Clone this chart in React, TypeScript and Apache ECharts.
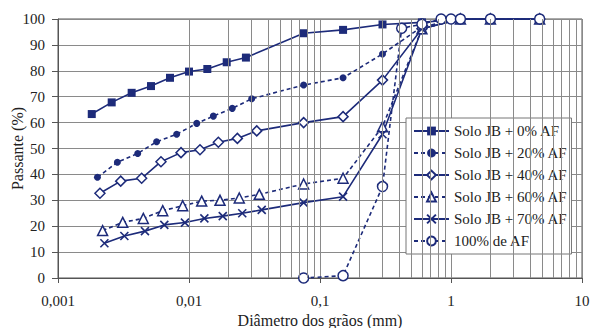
import React, { useEffect, useRef } from "react";
import * as echarts from "echarts";

const NAVY = "#1d2b7a";
const FONT = "Liberation Serif";

const seriesNames = [
  "Solo JB + 0% AF",
  "Solo JB + 20% AF",
  "Solo JB + 40% AF",
  "Solo JB + 60% AF",
  "Solo JB + 70% AF",
  "100% de AF",
];

const d0 = [0.00181, 0.00257, 0.00365, 0.00513, 0.00716, 0.01, 0.0138, 0.0194, 0.0272, 0.075, 0.15, 0.3, 0.6, 1.18, 2, 4.75];
const v0 = [63.3, 67.8, 71.5, 74.1, 77.3, 79.7, 80.7, 83.3, 85.1, 94.5, 95.8, 97.9, 98.7, 100, 100, 100];

const d20 = [0.002, 0.00284, 0.00406, 0.00566, 0.00805, 0.01146, 0.01534, 0.0214, 0.0301, 0.075, 0.15, 0.3, 0.6, 1.18, 2, 4.75];
const v20 = [38.9, 44.7, 48.1, 52.6, 55.5, 59.7, 62.5, 65.5, 69.2, 74.5, 77.3, 86.5, 97, 100, 100, 100];

const d40 = [0.00209, 0.00301, 0.00435, 0.00611, 0.00869, 0.01213, 0.01675, 0.0234, 0.0329, 0.075, 0.15, 0.3, 0.6, 1.18, 2, 4.75];
const v40 = [32.7, 37.4, 38.5, 44.9, 48.4, 49.5, 52.4, 53.9, 56.8, 60.0, 62.3, 76.4, 96.2, 100, 100, 100];

const d60 = [0.00219, 0.00312, 0.00448, 0.0063, 0.00895, 0.0125, 0.01725, 0.0242, 0.0344, 0.075, 0.15, 0.3, 0.6, 1.18, 2, 4.75];
const v60 = [18.3, 21.5, 23.0, 26.0, 27.9, 29.7, 30.0, 30.9, 32.3, 36.3, 38.5, 58.4, 96.2, 100, 100, 100];

const d70 = [0.00226, 0.00321, 0.00461, 0.00648, 0.00931, 0.0131, 0.0181, 0.0255, 0.0359, 0.075, 0.15, 0.3, 0.6, 1.18, 2, 4.75];
const v70 = [13.4, 16.2, 18.1, 20.5, 21.4, 23.0, 23.9, 25.0, 26.3, 29.1, 31.4, 55.5, 96.2, 100, 100, 100];

const d100 = [0.075, 0.15, 0.3, 0.42, 0.6, 0.84, 1.0, 1.18, 2, 4.75];
const v100 = [0, 0.9, 35.3, 96.4, 98, 100, 100, 100, 100, 100];

const minorGrid = [
  0.002, 0.003, 0.004, 0.005, 0.006, 0.007, 0.008, 0.009,
  0.02, 0.03, 0.04, 0.05, 0.06, 0.07, 0.08, 0.09,
  0.2, 0.3, 0.4, 0.5, 0.6, 0.7, 0.8, 0.9,
  2, 3, 4, 5, 6, 7, 8, 9,
];

const xTickText: Record<string, string> = {
  "0.001": "0,001",
  "0.01": "0,01",
  "0.1": "0,1",
  "1": "1",
  "10": "10",
};

const zip = (xs: number[], ys: number[]) => xs.map((x, i) => [x, ys[i]]);

const X_PATH = "path://M0,0L10,10M10,0L0,10";

export default function App() {
  const ref = useRef<HTMLDivElement>(null);
  useEffect(() => {
    document.body.style.margin = "0";
    if (!ref.current) return;
    const chart = echarts.init(ref.current, undefined, { renderer: "svg" });
    const solid = { color: NAVY, width: 1.6, type: "solid" as const };
    const dashed = { color: NAVY, width: 1.6, type: [4, 3] as any };
    const openItem = { color: "#fff", borderColor: NAVY, borderWidth: 1.5 };
    const mk = (name: string, data: number[][], symbol: string, size: number, lineStyle: any, itemStyle: any) => ({
      name,
      type: "line",
      data,
      symbol,
      symbolSize: size,
      showSymbol: true,
      lineStyle,
      itemStyle,
      z: 3,
      emphasis: { disabled: true },
    });
    chart.setOption({
      animation: false,
      backgroundColor: "#fff",
      textStyle: { fontFamily: FONT },
      grid: {
        left: 58,
        right: 8,
        top: 19,
        bottom: 50,
        show: true,
        borderColor: "#555",
        borderWidth: 1,
        outerBoundsMode: "none",
        containLabel: false,
      },
      legend: {
        data: seriesNames,
        orient: "vertical",
        left: 406,
        top: 118,
        padding: [5, 4, 5, 7],
        itemWidth: 35,
        itemHeight: 11,
        itemGap: 6,
        backgroundColor: "#fff",
        borderColor: "#777",
        borderWidth: 1,
        borderRadius: 0,
        textStyle: { fontFamily: FONT, fontSize: 15, color: "#222", lineHeight: 16 },
      },
      xAxis: {
        type: "log",
        logBase: 10,
        min: 0.001,
        max: 10,
        name: "Diâmetro dos grãos (mm)",
        nameLocation: "middle",
        nameGap: 34,
        nameMoveOverlap: false,
        nameTextStyle: { fontFamily: FONT, fontSize: 16, color: "#222" },
        axisLine: { lineStyle: { color: "#555", width: 1 } },
        axisTick: { show: true, length: 5, lineStyle: { color: "#555" } },
        axisLabel: {
          fontFamily: FONT,
          fontSize: 15,
          color: "#222",
          margin: 15,
          formatter: (v: number) => xTickText[String(Number(v.toPrecision(3)))] ?? String(v),
        },
        splitLine: { show: true, lineStyle: { color: "#8a8a8a", width: 1 } },
      },
      yAxis: {
        type: "value",
        min: 0,
        max: 100,
        interval: 10,
        name: "Passante (%)",
        nameLocation: "middle",
        nameGap: 33,
        nameMoveOverlap: false,
        nameTextStyle: { fontFamily: FONT, fontSize: 16, color: "#222" },
        axisLine: { show: true, lineStyle: { color: "#555", width: 1 } },
        axisTick: { show: true, length: 6, lineStyle: { color: "#555" } },
        axisLabel: { fontFamily: FONT, fontSize: 15, color: "#222", margin: 13 },
        splitLine: { show: true, lineStyle: { color: "#8a8a8a", width: 1 } },
      },
      series: [
        {
          name: "grid-minor",
          type: "line",
          data: [],
          z: 1,
          silent: true,
          markLine: {
            silent: true,
            symbol: "none",
            label: { show: false },
            lineStyle: { color: "#8a8a8a", width: 1, type: "solid" },
            emphasis: { disabled: true },
            data: minorGrid.map((x) => ({ xAxis: x })),
          },
        },
        mk(seriesNames[0], zip(d0, v0), "rect", 8, solid, { color: NAVY }),
        mk(seriesNames[1], zip(d20, v20), "circle", 7, dashed, { color: NAVY }),
        mk(seriesNames[2], zip(d40, v40), "diamond", 10, solid, openItem),
        mk(seriesNames[3], zip(d60, v60), "triangle", 10, dashed, openItem),
        mk(seriesNames[4], zip(d70, v70), X_PATH, 8, solid, { color: "transparent", borderColor: NAVY, borderWidth: 1.6 }),
        mk(seriesNames[5], zip(d100, v100), "circle", 10, dashed, openItem),
      ],
    });
    return () => chart.dispose();
  }, []);
  return <div ref={ref} style={{ width: 590, height: 328 }} />;
}
